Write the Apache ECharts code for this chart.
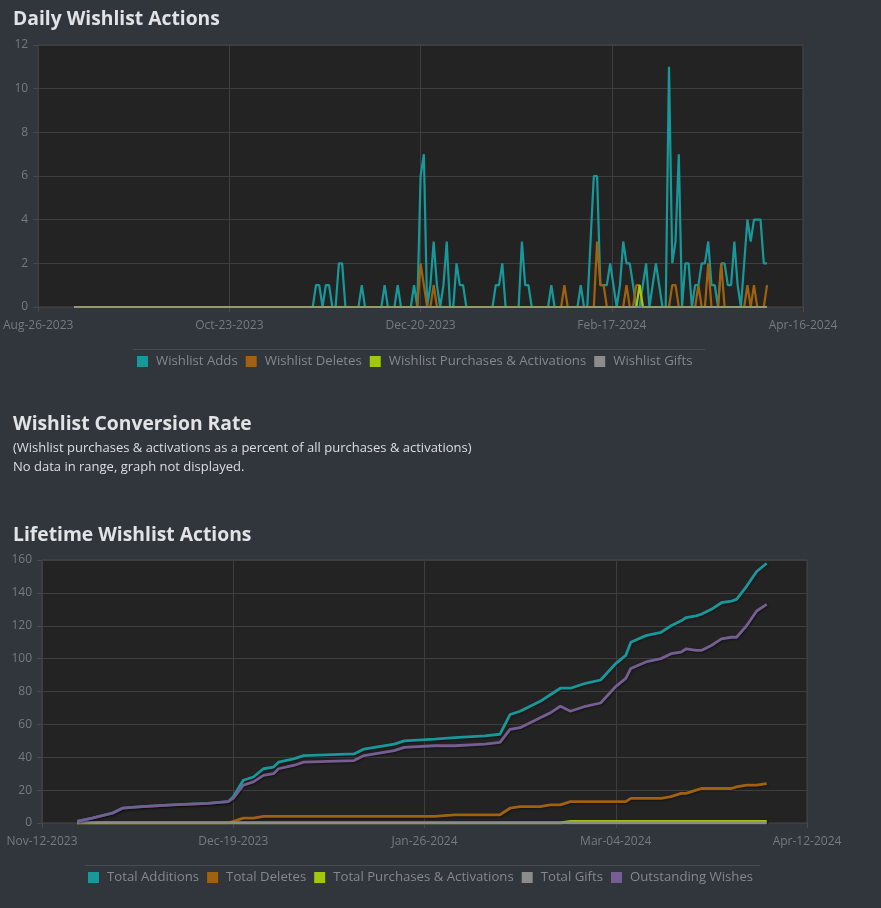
<!DOCTYPE html>
<html>
<head>
<meta charset="utf-8">
<title>Wishlist Actions</title>
<script src="https://cdn.jsdelivr.net/npm/echarts@6/dist/echarts.min.js"></script>
<style>
	html, body { margin: 0; padding: 0; background: #31353c; }
	#container { width: 881px; height: 908px; }
</style>
</head>
<body>
<div id="container"></div>
<script>
// ---- daily chart ----
var dailyTickLabels = [ 'Aug-26-2023', 'Oct-23-2023', 'Dec-20-2023', 'Feb-17-2024', 'Apr-16-2024' ];
var dailyAxisStart = '2023-08-26';
var dailyAxisEnd = '2024-04-16';
var dailyStart = '2023-09-06'; // first day of the daily arrays

var wishlistAdds = [
	0,0,0,0,0,0,0,0,0,0, 0,0,0,0,0,0,0,0,0,0, 0,0,0,0,0,0,0,0,0,0, 0,0,0,0,0,0,0,0,0,0,
	0,0,0,0,0,0,0,0,0,0, 0,0,0,0,0,0,0,0,0,0, 0,0,0,0,0,0,0,0,0,0, 0,0,0,0,
	1,1,0,1,1,0,0,2,2,0,
	0,0,0,0,1,0,0,0,0,0,
	0,1,0,0,0,1,0,0,0,0,
	1,0,6,7,0,1,3,1,0,1,
	3,0,0,2,1,1,0,0,0,0,
	0,0,0,0,0,1,1,2,0,0,
	0,0,0,3,1,1,0,0,0,0,
	0,0,1,0,0,0,0,0,0,0,
	0,1,0,0,3,6,6,1,1,1,
	2,1,0,1,3,2,2,1,0,0,
	1,2,0,1,2,1,0,0,11,2,
	3,7,0,2,2,0,1,1,2,2,
	3,1,1,0,2,2,1,1,3,1,
	0,2,4,3,4,4,4,2,2
];
var wishlistDeletes = [
	0,0,0,0,0,0,0,0,0,0, 0,0,0,0,0,0,0,0,0,0, 0,0,0,0,0,0,0,0,0,0, 0,0,0,0,0,0,0,0,0,0,
	0,0,0,0,0,0,0,0,0,0, 0,0,0,0,0,0,0,0,0,0, 0,0,0,0,0,0,0,0,0,0, 0,0,0,0,
	0,0,0,0,0,0,0,0,0,0,
	0,0,0,0,0,0,0,0,0,0,
	0,0,0,0,0,0,0,0,0,0,
	0,0,2,1,0,0,1,0,0,0,
	0,0,0,0,0,0,0,0,0,0,
	0,0,0,0,0,0,0,0,0,0,
	0,0,0,0,0,0,0,0,0,0,
	0,0,0,0,0,0,1,0,0,0,
	0,0,0,0,0,0,3,1,1,0,
	0,0,0,0,0,1,0,0,1,1,
	0,0,0,0,0,0,0,0,0,1,
	1,0,0,0,0,0,0,1,0,0,
	2,0,0,0,2,0,0,0,0,0,
	0,0,1,0,1,0,0,0,1
];
var wishlistPurchases = [
	0,0,0,0,0,0,0,0,0,0, 0,0,0,0,0,0,0,0,0,0, 0,0,0,0,0,0,0,0,0,0, 0,0,0,0,0,0,0,0,0,0,
	0,0,0,0,0,0,0,0,0,0, 0,0,0,0,0,0,0,0,0,0, 0,0,0,0,0,0,0,0,0,0, 0,0,0,0,
	0,0,0,0,0,0,0,0,0,0,
	0,0,0,0,0,0,0,0,0,0,
	0,0,0,0,0,0,0,0,0,0,
	0,0,0,0,0,0,0,0,0,0,
	0,0,0,0,0,0,0,0,0,0,
	0,0,0,0,0,0,0,0,0,0,
	0,0,0,0,0,0,0,0,0,0,
	0,0,0,0,0,0,0,0,0,0,
	0,0,0,0,0,0,0,0,0,0,
	0,0,0,0,0,0,0,0,0,1,
	0,0,0,0,0,0,0,0,0,0,
	0,0,0,0,0,0,0,0,0,0,
	0,0,0,0,0,0,0,0,0,0,
	0,0,0,0,0,0,0,0,0
];
var wishlistGifts = [
	0,0,0,0,0,0,0,0,0,0, 0,0,0,0,0,0,0,0,0,0, 0,0,0,0,0,0,0,0,0,0, 0,0,0,0,0,0,0,0,0,0,
	0,0,0,0,0,0,0,0,0,0, 0,0,0,0,0,0,0,0,0,0, 0,0,0,0,0,0,0,0,0,0, 0,0,0,0,
	0,0,0,0,0,0,0,0,0,0,
	0,0,0,0,0,0,0,0,0,0,
	0,0,0,0,0,0,0,0,0,0,
	0,0,0,0,0,0,0,0,0,0,
	0,0,0,0,0,0,0,0,0,0,
	0,0,0,0,0,0,0,0,0,0,
	0,0,0,0,0,0,0,0,0,0,
	0,0,0,0,0,0,0,0,0,0,
	0,0,0,0,0,0,0,0,0,0,
	0,0,0,0,0,0,0,0,0,0,
	0,0,0,0,0,0,0,0,0,0,
	0,0,0,0,0,0,0,0,0,0,
	0,0,0,0,0,0,0,0,0,0,
	0,0,0,0,0,0,0,0,0
];

// ---- lifetime chart ----
var lifeTickLabels = [ 'Nov-12-2023', 'Dec-19-2023', 'Jan-26-2024', 'Mar-04-2024', 'Apr-12-2024' ];
var lifeAxisStart = '2023-11-12';
var lifeAxisEnd = '2024-04-12';
var lifeDates = [
	'2023-11-19','2023-11-22','2023-11-26','2023-11-28','2023-12-02','2023-12-08','2023-12-15','2023-12-19',
	'2023-12-20','2023-12-22','2023-12-24','2023-12-26','2023-12-28','2023-12-29','2024-01-01','2024-01-03',
	'2024-01-13','2024-01-15','2024-01-21','2024-01-23','2024-01-29','2024-02-02','2024-02-08','2024-02-11',
	'2024-02-13','2024-02-15','2024-02-17','2024-02-19','2024-02-21','2024-02-23','2024-02-25','2024-02-28',
	'2024-03-02','2024-03-05','2024-03-07','2024-03-08','2024-03-11','2024-03-14','2024-03-16','2024-03-18',
	'2024-03-19','2024-03-21','2024-03-22','2024-03-24','2024-03-26','2024-03-28','2024-03-29','2024-03-31',
	'2024-04-02','2024-04-04'
];
var totalAdditions = [
	1,3,6,9,10,11,12,13, 16,26,28,33,34,37,39,41, 42,45,48,50,51,52,53,54,
	66,68,71,74,78,82,82,85, 87,97,102,110,114,116,120,123, 125,126,127,130,134,135,136,144, 153,158
];
var totalDeletes = [
	0,0,0,0,0,0,0,0, 1,3,3,4,4,4,4,4, 4,4,4,4,4,5,5,5,
	9,10,10,10,11,11,13,13, 13,13,13,15,15,15,16,18, 18,20,21,21,21,21,22,23, 23,24
];
var totalPurchases = [
	0,0,0,0,0,0,0,0, 0,0,0,0,0,0,0,0, 0,0,0,0,0,0,0,0,
	0,0,0,0,0,0,1,1, 1,1,1,1,1,1,1,1, 1,1,1,1,1,1,1,1, 1,1
];
var totalGifts = [
	0,0,0,0,0,0,0,0, 0,0,0,0,0,0,0,0, 0,0,0,0,0,0,0,0,
	0,0,0,0,0,0,0,0, 0,0,0,0,0,0,0,0, 0,0,0,0,0,0,0,0, 0,0
];
var outstandingWishes = [
	1,3,6,9,10,11,12,13, 15,23,25,29,30,33,35,37, 38,41,44,46,47,47,48,49,
	57,58,61,64,67,71,68,71, 73,83,88,94,98,100,103,104, 106,105,105,108,112,113,113,120, 129,133
];

var colTeal = '#17999b', colOrange = '#a0620e', colLime = '#a2c80e', colGray = '#8c8c8c', colPurple = '#765e93';

function dayNum(s) {
	var p = s.split('-');
	return Date.UTC(+p[0], +p[1] - 1, +p[2]) / 86400000;
}

function dailySeries(values) {
	var off = dayNum(dailyStart) - dayNum(dailyAxisStart);
	return values.map(function(v, i) { return [ off + i, v ]; });
}

function lifeSeries(values) {
	return values.map(function(v, i) { return [ dayNum(lifeDates[i]) - dayNum(lifeAxisStart), v ]; });
}

var dailySpan = dayNum(dailyAxisEnd) - dayNum(dailyAxisStart);
var lifeSpan = dayNum(lifeAxisEnd) - dayNum(lifeAxisStart);
var dailyStep = dailySpan / (dailyTickLabels.length - 1);
var lifeStep = lifeSpan / (lifeTickLabels.length - 1);

var tickText = { color : '#767b80', fontFamily : 'Open Sans', fontSize : 12 };
var gridLine = { lineStyle : { color : '#3e3e3e', width : 1 } };
var tickLine = { show : true, length : 5, lineStyle : { color : '#4a4a4a' } };
var titleText = { color : '#e1e3e5', fontFamily : 'Open Sans', fontWeight : 'bold', fontSize : 19.3, lineHeight : 24 };
var legendText = { color : '#85888c', fontFamily : 'Open Sans', fontSize : 13.2, padding : [ 0, 0, 0, 3 ] };
var shadow = { shadowColor : 'rgba(0,0,0,0.45)', shadowBlur : 2, shadowOffsetX : 1, shadowOffsetY : 1 };

function line(name, data, color, xi, width, extra) {
	return {
		name : name,
		type : 'line',
		xAxisIndex : xi,
		yAxisIndex : xi,
		data : data,
		color : color,
		showSymbol : false,
		symbol : 'none',
		silent : true,
		lineStyle : Object.assign({ color : color, width : width }, extra || {})
	};
}

var dom = document.getElementById("container");
var myChart = echarts.init(dom, null, { renderer : 'canvas' });
var option = {
	backgroundColor : '#31353c',
	animation : false,
	title : [ {
		text : 'Daily Wishlist Actions',
		left : 13, top : 8, padding : 0,
		textStyle : titleText
	}, {
		text : 'Wishlist Conversion Rate',
		subtext : '(Wishlist purchases & activations as a percent of all purchases & activations)\nNo data in range, graph not displayed.',
		left : 13, top : 413, padding : 0, itemGap : 2,
		textStyle : titleText,
		subtextStyle : { color : '#dcdee0', fontFamily : 'Open Sans', fontSize : 13, lineHeight : 19 }
	}, {
		text : 'Lifetime Wishlist Actions',
		left : 13, top : 524, padding : 0,
		textStyle : titleText
	} ],
	legend : [ {
		data : [ 'Wishlist Adds', 'Wishlist Deletes', 'Wishlist Purchases & Activations', 'Wishlist Gifts' ],
		left : 137, top : 355, padding : 0,
		icon : 'rect', itemWidth : 11, itemHeight : 11, itemGap : 8,
		selectedMode : false,
		textStyle : legendText
	}, {
		data : [ 'Total Additions', 'Total Deletes', 'Total Purchases & Activations', 'Total Gifts', 'Outstanding Wishes' ],
		left : 88, top : 871, padding : 0,
		icon : 'rect', itemWidth : 11, itemHeight : 11, itemGap : 8,
		selectedMode : false,
		textStyle : legendText
	} ],
	graphic : [ {
		type : 'line', shape : { x1 : 133, y1 : 349.5, x2 : 705, y2 : 349.5 },
		style : { stroke : '#484b51', lineWidth : 1 }, silent : true
	}, {
		type : 'line', shape : { x1 : 85, y1 : 865.5, x2 : 760, y2 : 865.5 },
		style : { stroke : '#484b51', lineWidth : 1 }, silent : true
	} ],
	grid : [ {
		left : 37, top : 45, width : 766, height : 262,
		show : true, backgroundColor : '#232323', borderColor : '#484848', borderWidth : 1
	}, {
		left : 42, top : 560, width : 765, height : 263,
		show : true, backgroundColor : '#232323', borderColor : '#484848', borderWidth : 1
	} ],
	xAxis : [ {
		type : 'value', gridIndex : 0,
		min : 0, max : dailySpan, interval : dailyStep,
		axisLine : { show : false }, axisTick : tickLine, splitLine : gridLine,
		axisLabel : Object.assign({ margin : 13, formatter : function(v) {
			return dailyTickLabels[Math.round(v / dailyStep)] || '';
		} }, tickText)
	}, {
		type : 'value', gridIndex : 1,
		min : 0, max : lifeSpan, interval : lifeStep,
		axisLine : { show : false }, axisTick : tickLine, splitLine : gridLine,
		axisLabel : Object.assign({ margin : 13, formatter : function(v) {
			return lifeTickLabels[Math.round(v / lifeStep)] || '';
		} }, tickText)
	} ],
	yAxis : [ {
		type : 'value', gridIndex : 0,
		min : 0, max : 12, interval : 2,
		axisLine : { show : false }, axisTick : tickLine, splitLine : gridLine,
		axisLabel : Object.assign({ margin : 10 }, tickText)
	}, {
		type : 'value', gridIndex : 1,
		min : 0, max : 160, interval : 20,
		axisLine : { show : false }, axisTick : tickLine, splitLine : gridLine,
		axisLabel : Object.assign({ margin : 10 }, tickText)
	} ],
	series : [
		line('Wishlist Adds', dailySeries(wishlistAdds), colTeal, 0, 2.2),
		line('Wishlist Deletes', dailySeries(wishlistDeletes), colOrange, 0, 2.2),
		line('Wishlist Purchases & Activations', dailySeries(wishlistPurchases), colLime, 0, 2.2),
		line('Wishlist Gifts', dailySeries(wishlistGifts), colGray, 0, 2.2, { opacity : 0.75 }),
		line('Total Additions', lifeSeries(totalAdditions), colTeal, 1, 2.8, shadow),
		line('Total Deletes', lifeSeries(totalDeletes), colOrange, 1, 2.8, shadow),
		line('Total Purchases & Activations', lifeSeries(totalPurchases), colLime, 1, 2.8, shadow),
		line('Total Gifts', lifeSeries(totalGifts), colGray, 1, 2.8, shadow),
		line('Outstanding Wishes', lifeSeries(outstandingWishes), colPurple, 1, 2.8, shadow)
	]
};
if (option && typeof option === "object") {
	myChart.setOption(option, true);
}
</script>
</body>
</html>
